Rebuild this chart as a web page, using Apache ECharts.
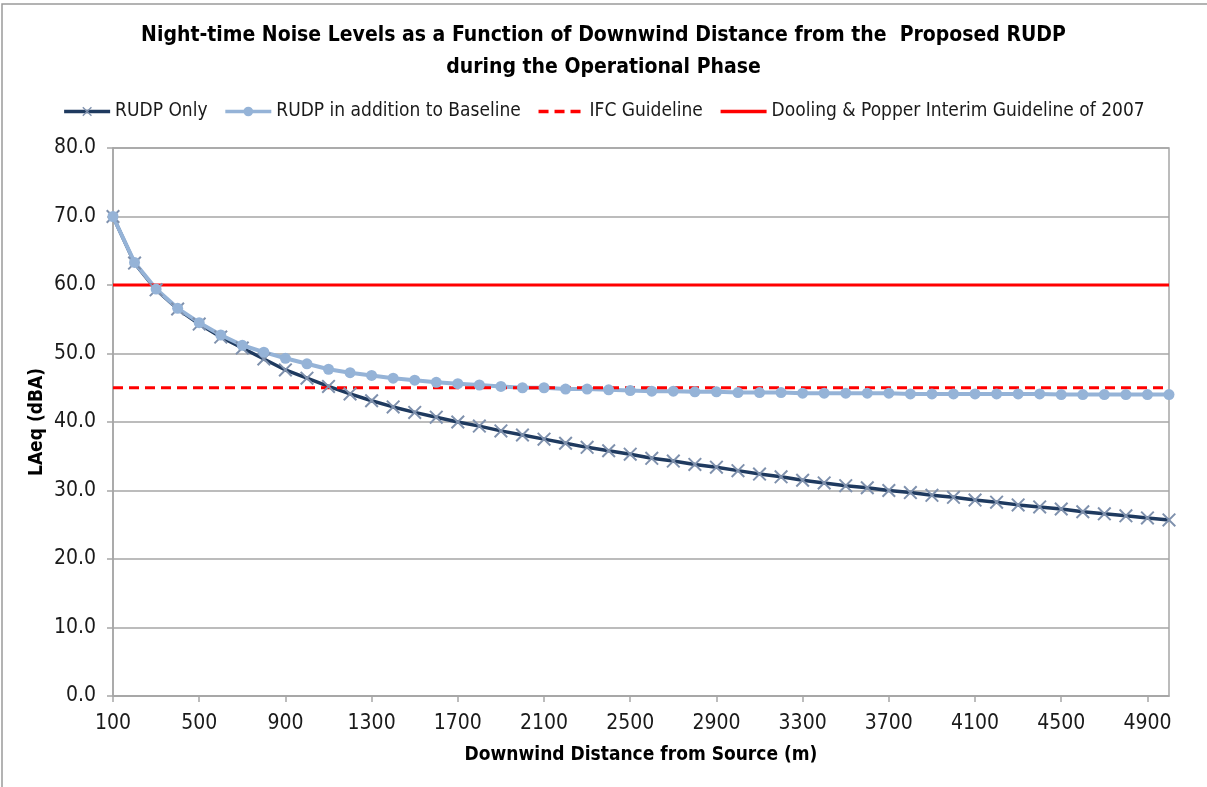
<!DOCTYPE html>
<html>
<head>
<meta charset="utf-8">
<script src="https://cdn.jsdelivr.net/npm/echarts@6/dist/echarts.min.js"></script>
<style>
html,body{margin:0;padding:0;background:#fff;}
#chart{width:1207px;height:787px;}
</style>
</head>
<body>
<div id="chart"></div>
<script>
const distances = [100,200,300,400,500,600,700,800,900,1000,1100,1200,1300,1400,1500,1600,1700,1800,1900,2000,
  2100,2200,2300,2400,2500,2600,2700,2800,2900,3000,3100,3200,3300,3400,3500,3600,3700,3800,3900,4000,
  4100,4200,4300,4400,4500,4600,4700,4800,4900,5000];

const rudpOnly = [70.0,63.2,59.3,56.5,54.3,52.4,50.8,49.2,47.6,46.4,45.2,44.1,43.1,42.2,41.4,40.7,40.0,39.4,38.7,38.1,
  37.5,36.9,36.3,35.8,35.3,34.7,34.3,33.8,33.4,32.9,32.4,32.0,31.5,31.1,30.7,30.4,30.0,29.7,29.3,29.0,
  28.6,28.3,27.9,27.6,27.3,26.9,26.6,26.3,26.0,25.7];

const rudpWithBaseline = [70.0,63.3,59.4,56.6,54.5,52.7,51.2,50.2,49.3,48.5,47.7,47.2,46.8,46.4,46.1,45.8,45.6,45.4,45.2,45.0,
  45.0,44.8,44.8,44.7,44.6,44.5,44.5,44.4,44.4,44.3,44.3,44.3,44.2,44.2,44.2,44.2,44.2,44.1,44.1,44.1,
  44.1,44.1,44.1,44.1,44.0,44.0,44.0,44.0,44.0,44.0];

const ifcGuideline = 45;
const doolingGuideline = 60;

const yTicks = {min: 0, max: 80, interval: 10};

const seriesNames = ['RUDP Only','RUDP in addition to Baseline','IFC Guideline','Dooling & Popper Interim Guideline of 2007'];

const FONT = "'Liberation Sans Narrow','DejaVu Sans Condensed','Liberation Sans',sans-serif";
const crossPath = 'path://M0,1L1,0L10,9L9,10ZM9,0L10,1L1,10L0,9Z';

const chart = echarts.init(document.getElementById('chart'));
chart.setOption({
  backgroundColor: '#fff',
  animation: false,
  graphic: [{
    type: 'rect', shape: {x: 2, y: 4, width: 1240, height: 820},
    style: {fill: 'none', stroke: '#9a9a9a', lineWidth: 1.5}, z: -1
  }],
  title: {
    text: 'Night-time Noise Levels as a Function of Downwind Distance from the  Proposed RUDP\nduring the Operational Phase',
    left: 'center', top: 15,
    textStyle: {fontFamily: FONT, fontSize: 21, fontWeight: 'bold', color: '#000', lineHeight: 32}
  },
  legend: {
    top: 97, left: 'center',
    itemWidth: 46, itemHeight: 12, itemGap: 16,
    textStyle: {fontFamily: FONT, fontSize: 19, color: '#1a1a1a'},
    lineStyle: {width: 3.5},
    data: [
      {name: seriesNames[0]},
      {name: seriesNames[1]},
      {name: seriesNames[2], itemStyle: {opacity: 0}},
      {name: seriesNames[3], itemStyle: {opacity: 0}}
    ]
  },
  grid: {left: 113, right: 38, top: 148, bottom: 91, show: true, borderColor: '#a6a6a6', borderWidth: 1.5},
  xAxis: {
    type: 'category', data: distances, boundaryGap: false,
    name: 'Downwind Distance from Source (m)', nameLocation: 'middle', nameGap: 50,
    nameTextStyle: {fontFamily: FONT, fontSize: 19, fontWeight: 'bold', color: '#000'},
    axisLine: {lineStyle: {color: '#a6a6a6', width: 1.5}},
    axisTick: {show: true, interval: 3, length: 6, lineStyle: {color: '#a6a6a6', width: 1.5}},
    axisLabel: {interval: 3, margin: 17, fontFamily: FONT, fontSize: 21, color: '#1a1a1a'},
    splitLine: {show: false}
  },
  yAxis: {
    type: 'value', min: yTicks.min, max: yTicks.max, interval: yTicks.interval,
    name: 'LAeq (dBA)', nameLocation: 'middle', nameGap: 66, nameRotate: 90,
    nameMoveOverlap: false,
    nameTextStyle: {fontFamily: FONT, fontSize: 19, fontWeight: 'bold', color: '#000'},
    axisLine: {show: true, lineStyle: {color: '#a6a6a6', width: 1.5}},
    axisTick: {show: true, length: 6, lineStyle: {color: '#a6a6a6', width: 1.5}},
    axisLabel: {margin: 17, fontFamily: FONT, fontSize: 21, color: '#1a1a1a', formatter: v => v.toFixed(1)},
    splitLine: {lineStyle: {color: '#a6a6a6', width: 1.5}}
  },
  series: [
    {
      name: seriesNames[0], type: 'line', data: rudpOnly,
      symbol: crossPath, symbolSize: 14, showAllSymbol: true,
      lineStyle: {color: '#1f3a5f', width: 3.5},
      itemStyle: {color: '#7f91ad'}
    },
    {
      name: seriesNames[1], type: 'line', data: rudpWithBaseline,
      symbol: 'circle', symbolSize: 11, showAllSymbol: true,
      lineStyle: {color: '#95b3d7', width: 4},
      itemStyle: {color: '#95b3d7'}
    },
    {
      name: seriesNames[2], type: 'line', data: distances.map(() => ifcGuideline),
      symbol: 'none',
      lineStyle: {color: '#ff0000', width: 3, type: [10, 6]},
      itemStyle: {color: '#ff0000'}
    },
    {
      name: seriesNames[3], type: 'line', data: distances.map(() => doolingGuideline),
      symbol: 'none',
      lineStyle: {color: '#ff0000', width: 3},
      itemStyle: {color: '#ff0000'}
    }
  ]
});
</script>
</body>
</html>
